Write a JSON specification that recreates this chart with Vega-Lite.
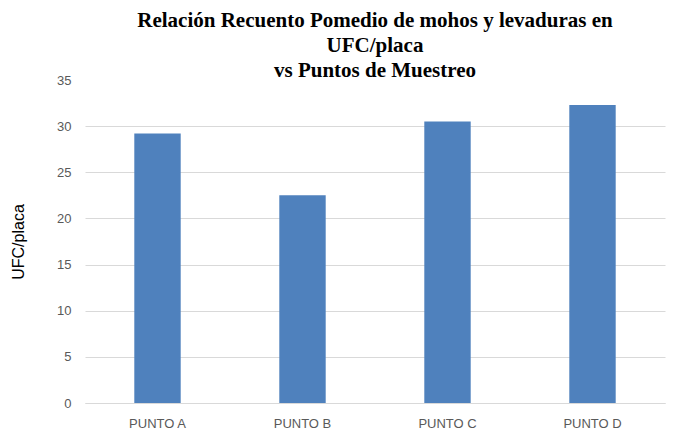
{
  "$schema": "https://vega.github.io/schema/vega-lite/v6.json",
  "autosize": "none",
  "width": 580,
  "height": 323,
  "padding": {"left": 85, "top": 80, "right": 12, "bottom": 35},
  "background": "white",
  "title": {
    "text": ["Relación Recuento Pomedio de mohos y levaduras en", "UFC/placa", "vs Puntos de Muestreo"],
    "font": "Liberation Serif",
    "fontSize": 21,
    "fontWeight": "bold",
    "color": "#000000",
    "lineHeight": 25,
    "anchor": "middle",
    "offset": -7
  },
  "data": {
    "values": [
      {"punto": "PUNTO A", "ufc": 29.2},
      {"punto": "PUNTO B", "ufc": 22.5},
      {"punto": "PUNTO C", "ufc": 30.5},
      {"punto": "PUNTO D", "ufc": 32.3}
    ]
  },
  "mark": {"type": "bar", "color": "#4F81BD"},
  "encoding": {
    "x": {
      "field": "punto",
      "type": "nominal",
      "sort": null,
      "scale": {"paddingInner": 0.68, "paddingOuter": 0.34},
      "axis": {
        "title": null,
        "labelAngle": 0,
        "labelFont": "Liberation Sans",
        "labelFontSize": 13,
        "labelColor": "#595959",
        "labelPadding": 14,
        "ticks": false,
        "domain": true,
        "domainColor": "#d9d9d9",
        "grid": false
      }
    },
    "y": {
      "field": "ufc",
      "type": "quantitative",
      "scale": {"domain": [0, 35], "nice": false},
      "axis": {
        "title": "UFC/placa",
        "titleFont": "Liberation Sans",
        "titleFontSize": 16,
        "titleFontWeight": "normal",
        "titleColor": "#000000",
        "titlePadding": 30,
        "values": [0, 5, 10, 15, 20, 25, 30, 35],
        "labelFont": "Liberation Sans",
        "labelFontSize": 13,
        "labelColor": "#595959",
        "labelPadding": 14,
        "ticks": false,
        "domain": false,
        "grid": true,
        "gridColor": "#d9d9d9",
        "gridOpacity": {"condition": {"test": "datum.value == 35", "value": 0}, "value": 1}
      }
    }
  },
  "config": {"view": {"stroke": null}}
}
